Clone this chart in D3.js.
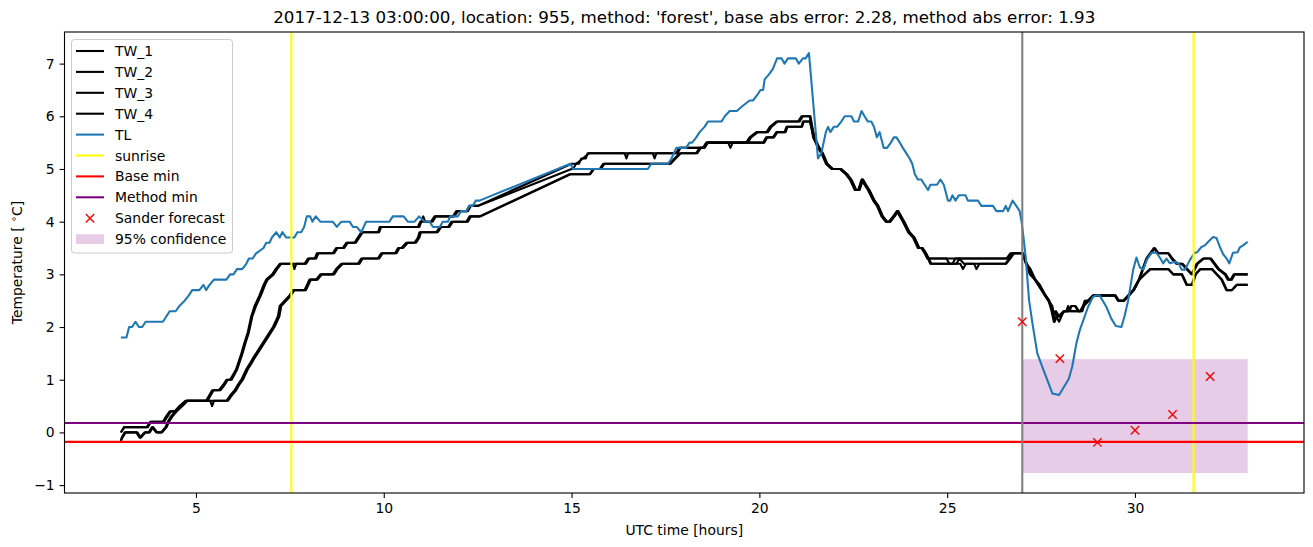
<!DOCTYPE html>
<html><head><meta charset="utf-8">
<script src="https://cdn.jsdelivr.net/npm/d3@7"></script>
<style>body{margin:0;background:#fff}svg{display:block;font-family:"DejaVu Sans",sans-serif}</style>
</head><body><svg id="c" width="1313" height="547"></svg>
<script>
// ---------- data ----------
const titleText = "2017-12-13 03:00:00, location: 955, method: 'forest', base abs error: 2.28, method abs error: 1.93";
const xTicks = [5, 10, 15, 20, 25, 30];
const yTicks = [-1, 0, 1, 2, 3, 4, 5, 6, 7];
const seriesNames = ["TW_1", "TW_2", "TW_3", "TW_4", "TL"];

const tw1 = [[3.0,0.0],[3.08,0.1],[3.69,0.1],[3.78,0.2],[4.12,0.2],[4.2,0.3],[4.3,0.4],[4.43,0.4],[4.56,0.5],[4.72,0.6],[5.27,0.6],[5.35,0.7],[5.43,0.8],[5.61,0.8],[5.72,0.9],[5.81,1.0],[5.91,1.0],[6.07,1.2],[6.21,1.5],[6.29,1.7],[6.38,1.9],[6.47,2.2],[6.56,2.4],[6.69,2.6],[6.8,2.8],[6.87,2.9],[7.03,3.0],[7.12,3.1],[7.23,3.2],[7.89,3.2],[7.98,3.3],[8.16,3.3],[8.22,3.4],[8.64,3.4],[8.73,3.5],[8.91,3.5],[9.0,3.6],[9.22,3.6],[9.31,3.7],[9.4,3.8],[9.85,3.8],[9.89,3.9],[10.91,3.9],[10.97,4.0],[11.26,4.0],[11.35,4.1],[11.84,4.1],[11.93,4.2],[12.2,4.2],[12.28,4.3],[12.5,4.3],[15.0,5.1],[15.2,5.1],[15.26,5.2],[15.38,5.2],[15.43,5.3],[17.79,5.3],[17.86,5.4],[18.5,5.4],[18.59,5.5],[19.65,5.5],[19.74,5.6],[19.92,5.7],[20.19,5.7],[20.28,5.8],[20.45,5.9],[21.03,5.9],[21.12,6.0],[21.34,6.0],
 [21.43,5.6],[21.56,5.4],[21.65,5.3],[21.77,5.1],[21.92,5.0],[22.14,5.0],[22.3,4.9],[22.41,4.8],[22.54,4.6],[22.63,4.6],[22.72,4.8],[22.8,4.7],[22.89,4.6],[23.03,4.4],[23.13,4.3],[23.25,4.1],[23.36,4.0],[23.45,4.0],[23.56,4.1],[23.66,4.2],[23.74,4.1],[23.82,4.0],[23.96,3.8],[24.09,3.7],[24.22,3.5],[24.31,3.5],[24.4,3.4],[24.47,3.3],[26.62,3.3],[26.72,3.4],[27.0,3.4],[27.1,3.2],[27.2,3.1],[27.33,2.9],[27.42,2.8],[27.6,2.6],[27.69,2.5],[27.78,2.4],[27.82,2.2],[27.87,2.3],[27.95,2.2],[28.1,2.3],[28.22,2.3],[28.3,2.4],[28.4,2.4],[28.49,2.3],[28.57,2.3],[28.66,2.5],[28.75,2.5],[28.88,2.6],[29.46,2.6],[29.55,2.5],[29.68,2.5],[29.82,2.6],[29.95,2.7],[30.1,2.9],[30.2,3.1],[30.3,3.3],[30.4,3.4],[30.5,3.5],[30.6,3.4],[30.88,3.4],[30.97,3.3],[31.1,3.2],[31.24,3.2],[31.37,3.1],[31.5,3.0],[31.64,3.2],[31.81,3.3],[32.0,3.3],[32.21,3.1],[32.39,3.0],[32.47,2.9],[32.55,2.9],[32.63,3.0],[33.0,3.0]];

const tw2 = [[3.0,0.0],[3.1,0.1],[3.72,0.1],[3.8,0.2],[4.15,0.2],[4.24,0.3],[4.33,0.4],[4.47,0.4],[4.6,0.5],[4.76,0.6],[5.31,0.6],[5.39,0.7],[5.47,0.8],[5.65,0.8],[5.76,0.9],[5.85,1.0],[5.95,1.0],[6.1,1.2],[6.24,1.5],[6.32,1.7],[6.41,1.9],[6.5,2.2],[6.6,2.4],[6.73,2.6],[6.84,2.8],[6.91,2.9],[7.07,3.0],[7.16,3.1],[7.27,3.2],[7.58,3.2],[7.62,3.1],[7.67,3.2],[7.93,3.2],[8.02,3.3],[8.2,3.3],[8.26,3.4],[8.68,3.4],[8.77,3.5],[8.95,3.5],[9.04,3.6],[9.26,3.6],[9.35,3.7],[9.44,3.8],[9.88,3.8],[9.93,3.9],[10.95,3.9],[11.0,4.0],[11.05,4.1],[11.1,4.0],[11.3,4.0],[11.39,4.1],[11.88,4.1],[11.97,4.2],[12.24,4.2],[12.32,4.3],[12.52,4.3],[15.0,5.0],[15.04,5.0],[15.12,5.1],[15.3,5.2],[15.47,5.3],[16.41,5.3],[16.46,5.2],[16.51,5.3],[17.16,5.3],[17.21,5.2],[17.26,5.3],[17.82,5.3],[17.9,5.4],[18.54,5.4],[18.63,5.5],[19.17,5.5],[19.23,5.4],[19.29,5.5],[19.69,5.5],[19.78,5.6],[19.96,5.7],[20.23,5.7],[20.32,5.8],[20.49,5.9],[21.07,5.9],[21.16,6.0],[21.36,6.0],
 [21.46,5.6],[21.59,5.4],[21.68,5.3],[21.8,5.1],[21.95,5.0],[22.17,5.0],[22.33,4.9],[22.44,4.8],[22.57,4.6],[22.66,4.6],[22.75,4.8],[22.83,4.7],[22.92,4.6],[23.06,4.4],[23.16,4.3],[23.28,4.1],[23.39,4.0],[23.48,4.0],[23.59,4.1],[23.69,4.2],[23.77,4.1],[23.85,4.0],[23.99,3.8],[24.12,3.7],[24.25,3.5],[24.34,3.5],[24.43,3.4],[24.5,3.3],[24.98,3.3],[25.06,3.2],[25.14,3.2],[25.22,3.3],[26.58,3.3],[26.68,3.4],[27.02,3.4],[27.12,3.2],[27.22,3.1],[27.35,2.9],[27.45,2.8],[27.62,2.6],[27.71,2.5],[27.8,2.4],[27.85,2.2],[27.9,2.3],[27.98,2.2],[28.12,2.3],[28.24,2.3],[28.32,2.4],[28.42,2.4],[28.51,2.3],[28.6,2.3],[28.68,2.5],[28.77,2.5],[28.9,2.6],[29.48,2.6],[29.57,2.5],[29.7,2.5],[29.84,2.6],[29.97,2.7],[30.12,2.9],[30.22,3.1],[30.32,3.3],[30.43,3.4],[30.53,3.5],[30.63,3.4],[30.9,3.4],[31.0,3.3],[31.13,3.2],[31.27,3.2],[31.4,3.1],[31.53,3.0],[31.67,3.2],[31.84,3.3],[32.03,3.3],[32.24,3.1],[32.42,3.0],[32.5,2.9],[32.58,2.9],[32.66,3.0],[33.0,3.0]];

const tw3 = [[3.0,-0.2],[3.02,-0.1],[3.1,0.0],[3.41,0.0],[3.5,-0.1],[3.63,0.0],[3.74,0.0],[3.83,0.1],[3.94,0.0],[4.07,0.0],[4.19,0.1],[4.25,0.2],[4.33,0.3],[4.45,0.4],[4.6,0.5],[4.74,0.6],[5.81,0.6],[5.91,0.7],[6.03,0.8],[6.11,0.9],[6.21,1.0],[6.34,1.2],[6.43,1.3],[6.51,1.4],[6.69,1.6],[6.87,1.8],[7.05,2.0],[7.18,2.2],[7.23,2.4],[7.36,2.5],[7.49,2.6],[7.58,2.7],[7.89,2.7],[8.02,2.9],[8.2,2.9],[8.31,3.0],[8.64,3.0],[8.73,3.1],[8.87,3.2],[9.31,3.2],[9.4,3.3],[9.84,3.3],[9.93,3.4],[10.3,3.4],[10.38,3.5],[10.47,3.5],[10.6,3.6],[10.82,3.6],[10.91,3.7],[10.95,3.8],[11.4,3.8],[11.49,3.9],[11.71,3.9],[11.8,4.0],[12.2,4.0],[12.28,4.1],[12.55,4.1],[14.95,4.9],[15.48,4.9],[15.57,5.0],[15.75,5.0],[15.84,5.1],[17.61,5.1],[17.74,5.2],[17.88,5.3],[18.32,5.3],[18.41,5.4],[18.5,5.4],[18.59,5.5],[20.1,5.5],[20.18,5.6],[20.36,5.6],[20.45,5.7],[20.67,5.7],[20.72,5.8],[21.12,5.8],[21.16,5.9],[21.34,5.9],
 [21.45,5.6],[21.58,5.4],[21.67,5.3],[21.79,5.1],[21.94,5.0],[22.16,5.0],[22.32,4.9],[22.43,4.8],[22.56,4.6],[22.65,4.6],[22.74,4.8],[22.82,4.7],[22.91,4.6],[23.05,4.4],[23.15,4.3],[23.27,4.1],[23.38,4.0],[23.47,4.0],[23.58,4.1],[23.68,4.2],[23.76,4.1],[23.84,4.0],[23.98,3.8],[24.11,3.7],[24.24,3.5],[24.33,3.5],[24.42,3.4],[24.49,3.3],[24.55,3.2],[25.35,3.2],[25.42,3.1],[25.5,3.2],[25.72,3.2],[25.78,3.1],[25.86,3.2],[26.55,3.2],[26.65,3.3],[26.75,3.4],[27.0,3.4],[27.1,3.2],[27.2,3.0],[27.33,2.9],[27.45,2.8],[27.6,2.6],[27.7,2.5],[27.78,2.3],[27.84,2.1],[27.9,2.2],[27.98,2.1],[28.1,2.3],[28.53,2.3],[28.62,2.4],[28.75,2.5],[28.88,2.6],[29.46,2.6],[29.55,2.5],[29.7,2.5],[29.82,2.6],[29.95,2.7],[30.1,2.9],[30.25,3.0],[30.4,3.1],[30.88,3.1],[31.01,3.0],[31.24,3.0],[31.37,2.8],[31.51,2.8],[31.6,3.0],[31.73,3.1],[32.04,3.1],[32.17,3.0],[32.3,2.9],[32.43,2.7],[32.57,2.7],[32.7,2.8],[33.0,2.8]];

const tw4 = [[3.0,-0.15],[3.04,-0.1],[3.13,0.0],[3.44,0.0],[3.53,-0.1],[3.66,0.0],[3.77,0.0],[3.86,0.1],[3.97,0.0],[4.1,0.0],[4.22,0.1],[4.28,0.2],[4.37,0.3],[4.49,0.4],[4.64,0.5],[4.78,0.6],[5.38,0.6],[5.43,0.5],[5.48,0.6],[5.85,0.6],[5.95,0.7],[6.07,0.8],[6.15,0.9],[6.25,1.0],[6.38,1.2],[6.47,1.3],[6.55,1.4],[6.73,1.6],[6.91,1.8],[7.09,2.0],[7.22,2.2],[7.27,2.4],[7.4,2.5],[7.53,2.6],[7.62,2.7],[7.93,2.7],[8.06,2.9],[8.24,2.9],[8.35,3.0],[8.68,3.0],[8.77,3.1],[8.91,3.2],[9.35,3.2],[9.44,3.3],[9.88,3.3],[9.97,3.4],[10.34,3.4],[10.42,3.5],[10.51,3.5],[10.64,3.6],[10.86,3.6],[10.95,3.7],[10.99,3.8],[11.44,3.8],[11.53,3.9],[11.75,3.9],[11.84,4.0],[12.24,4.0],[12.32,4.1],[12.58,4.1],[14.97,4.9],[15.5,4.9],[15.6,5.0],[15.78,5.0],[15.88,5.1],[17.64,5.1],[17.77,5.2],[17.91,5.3],[18.35,5.3],[18.44,5.4],[18.53,5.4],[18.62,5.5],[20.13,5.5],[20.21,5.6],[20.39,5.6],[20.48,5.7],[20.7,5.7],[20.75,5.8],[21.14,5.8],[21.18,5.9],[21.36,5.9],
 [21.47,5.6],[21.6,5.4],[21.69,5.3],[21.81,5.1],[21.96,5.0],[22.18,5.0],[22.34,4.9],[22.45,4.8],[22.58,4.6],[22.67,4.6],[22.76,4.8],[22.84,4.7],[22.93,4.6],[23.07,4.4],[23.17,4.3],[23.29,4.1],[23.4,4.0],[23.49,4.0],[23.6,4.1],[23.7,4.2],[23.78,4.1],[23.86,4.0],[24.0,3.8],[24.13,3.7],[24.26,3.5],[24.35,3.5],[24.44,3.4],[24.51,3.3],[24.58,3.2],[25.25,3.2],[25.32,3.3],[25.45,3.2],[26.57,3.2],[26.68,3.3],[26.78,3.4],[27.02,3.4],[27.12,3.2],[27.22,3.0],[27.35,2.9],[27.47,2.8],[27.62,2.6],[27.72,2.5],[27.8,2.3],[27.86,2.1],[27.92,2.2],[28.0,2.2],[28.12,2.3],[28.17,2.3],[28.22,2.4],[28.3,2.3],[28.55,2.3],[28.64,2.4],[28.77,2.5],[28.9,2.6],[29.48,2.6],[29.57,2.5],[29.72,2.5],[29.84,2.6],[29.97,2.7],[30.12,2.9],[30.27,3.0],[30.42,3.1],[30.9,3.1],[31.03,3.0],[31.26,3.0],[31.39,2.8],[31.53,2.8],[31.62,3.0],[31.75,3.1],[32.06,3.1],[32.19,3.0],[32.32,2.9],[32.45,2.7],[32.59,2.7],[32.72,2.8],[33.0,2.8]];

const tl = [[3.0,1.8],[3.15,1.8],[3.22,2.0],[3.3,2.0],[3.39,2.1],[3.48,2.0],[3.57,2.0],[3.66,2.1],[4.12,2.1],[4.3,2.3],[4.46,2.3],[4.56,2.4],[4.7,2.5],[4.81,2.6],[4.9,2.7],[5.09,2.7],[5.2,2.8],[5.27,2.7],[5.36,2.8],[5.48,2.9],[5.81,2.9],[5.91,3.0],[6.0,3.0],[6.09,3.1],[6.23,3.1],[6.34,3.2],[6.41,3.3],[6.51,3.3],[6.6,3.4],[6.8,3.5],[6.87,3.6],[6.96,3.6],[7.02,3.7],[7.14,3.8],[7.23,3.7],[7.3,3.8],[7.4,3.7],[7.62,3.7],[7.7,3.8],[7.8,3.8],[7.88,3.9],[7.95,4.1],[8.04,4.1],[8.1,4.0],[8.19,4.1],[8.31,4.0],[8.64,4.0],[8.75,3.9],[8.87,4.0],[9.09,4.0],[9.18,3.9],[9.28,3.9],[9.4,3.8],[9.53,4.0],[10.15,4.0],[10.24,4.1],[10.53,4.1],[10.64,4.0],[10.82,4.0],[10.94,4.1],[11.09,4.0],[11.22,4.0],[11.31,3.9],[11.49,3.9],[11.57,4.0],[11.71,4.0],[11.77,4.1],[11.97,4.1],[12.06,4.2],[12.2,4.2],[12.28,4.3],[12.37,4.3],[12.45,4.4],[12.55,4.4],[14.97,5.1],[15.04,5.0],[15.13,5.0],[17.03,5.0],[17.12,5.1],[17.57,5.1],[17.66,5.2],[17.79,5.4],[18.05,5.4],[18.14,5.5],[18.21,5.5],[18.32,5.6],[18.41,5.7],[18.54,5.8],[18.63,5.9],[18.99,5.9],[19.08,6.0],[19.21,6.1],[19.4,6.1],[19.56,6.2],[19.74,6.3],[19.83,6.3],[19.94,6.4],[20.03,6.5],[20.1,6.5],[20.14,6.7],[20.26,6.8],[20.36,6.9],[20.47,7.1],[20.59,7.1],[20.67,7.0],[20.76,7.1],[20.97,7.1],[21.05,7.0],[21.16,7.1],[21.23,7.1],[21.32,7.2],[21.56,5.2],[21.65,5.3],[21.77,5.7],[21.83,5.8],[21.89,5.7],[21.98,5.8],[22.07,5.8],[22.18,5.9],[22.27,6.0],[22.45,6.0],[22.52,5.9],[22.63,5.9],[22.72,6.1],[22.8,6.0],[22.89,5.9],[22.98,5.9],[23.05,5.8],[23.13,5.6],[23.2,5.7],[23.31,5.4],[23.4,5.4],[23.5,5.5],[23.58,5.6],[23.65,5.6],[23.74,5.5],[23.82,5.4],[23.91,5.3],[24.0,5.2],[24.07,5.1],[24.14,4.9],[24.22,4.8],[24.31,4.8],[24.4,4.7],[24.49,4.6],[24.55,4.7],[24.73,4.7],[24.82,4.8],[24.91,4.7],[25.02,4.4],[25.08,4.4],[25.14,4.5],[25.22,4.4],[25.31,4.5],[25.49,4.5],[25.55,4.4],[25.82,4.4],[25.91,4.3],[26.22,4.3],[26.31,4.2],[26.49,4.2],[26.56,4.3],[26.62,4.2],[26.74,4.4],[26.84,4.3],[26.93,4.2],[26.98,4.0],[27.02,3.78],[27.09,3.33],[27.18,2.51],[27.27,2.07],[27.4,1.5],[27.53,1.25],[27.67,0.99],[27.8,0.74],[27.98,0.71],[28.08,0.83],[28.24,1.02],[28.33,1.25],[28.44,1.69],[28.53,1.94],[28.75,2.38],[28.88,2.57],[28.97,2.6],[29.06,2.6],[29.24,2.38],[29.37,2.16],[29.49,2.02],[29.64,2.0],[29.73,2.23],[29.82,2.51],[29.95,3.08],[30.04,3.32],[30.13,3.13],[30.22,3.09],[30.31,3.27],[30.44,3.41],[30.57,3.41],[30.66,3.32],[30.75,3.21],[30.84,3.3],[30.93,3.21],[31.06,3.24],[31.17,3.2],[31.24,3.09],[31.33,3.09],[31.46,3.27],[31.59,3.41],[31.66,3.42],[31.77,3.52],[31.86,3.55],[31.95,3.62],[32.08,3.71],[32.17,3.69],[32.26,3.52],[32.35,3.38],[32.44,3.3],[32.51,3.21],[32.61,3.41],[32.73,3.42],[32.79,3.51],[32.88,3.55],[33.0,3.62]];

const sunriseHours = [7.54, 31.56];
const nowHour = 27;
const baseMin = -0.18;
const methodMin = 0.18;
const forecastHours = [27, 28, 29, 30, 31, 32];
const forecastValues = [2.1, 1.4, -0.19, 0.04, 0.34, 1.06];
const confHours = [27, 33];
const confLow = -0.77;
const confHigh = 1.39;

// ---------- layout ----------
const svg = d3.select("#c");
const L = 64.5, R = 1304, T = 32, B = 493;
const x = d3.scaleLinear().domain([1.5, 34.5]).range([L, R]);
const y = d3.scaleLinear().domain([-1.15, 7.6]).range([B, T]);
const FS = 13.9;
const LW = 2.08;

svg.append("defs").append("clipPath").attr("id", "clip")
  .append("rect").attr("x", L).attr("y", T).attr("width", R - L).attr("height", B - T);
const plot = svg.append("g").attr("clip-path", "url(#clip)");

// confidence band (zorder below lines)
plot.append("rect")
  .attr("x", x(confHours[0])).attr("width", x(confHours[1]) - x(confHours[0]))
  .attr("y", y(confHigh)).attr("height", y(confLow) - y(confHigh))
  .attr("fill", "#800080").attr("fill-opacity", 0.2);

const line = d3.line().x(d => x(d[0])).y(d => y(d[1]));
const twData = [tw1, tw2, tw3, tw4];
twData.forEach(s => {
  plot.append("path").datum(s).attr("d", line)
    .attr("fill", "none").attr("stroke", "#000").attr("stroke-width", LW)
    .attr("stroke-linejoin", "round");
});
plot.append("path").datum(tl).attr("d", line)
  .attr("fill", "none").attr("stroke", "#1f77b4").attr("stroke-width", LW)
  .attr("stroke-linejoin", "round");

sunriseHours.forEach(h => {
  plot.append("line").attr("x1", x(h)).attr("x2", x(h)).attr("y1", T).attr("y2", B)
    .attr("stroke", "#ffff00").attr("stroke-width", LW);
});
plot.append("line").attr("x1", L).attr("x2", R).attr("y1", y(baseMin)).attr("y2", y(baseMin))
  .attr("stroke", "#ff0000").attr("stroke-width", LW);
plot.append("line").attr("x1", L).attr("x2", R).attr("y1", y(methodMin)).attr("y2", y(methodMin))
  .attr("stroke", "#800080").attr("stroke-width", LW);
plot.append("line").attr("x1", x(nowHour)).attr("x2", x(nowHour)).attr("y1", T).attr("y2", B)
  .attr("stroke", "#808080").attr("stroke-width", LW);

const ms = 4.2;
forecastHours.forEach((h, i) => {
  const cx = x(h), cy = y(forecastValues[i]);
  plot.append("path").attr("d", `M${cx-ms},${cy-ms}L${cx+ms},${cy+ms}M${cx-ms},${cy+ms}L${cx+ms},${cy-ms}`)
    .attr("stroke", "#ff0000").attr("stroke-width", 1.4).attr("fill", "none");
});

// ---------- axes ----------
const fmt = d => (d < 0 ? "\u2212" + Math.abs(d) : String(d));
const xa = svg.append("g").attr("transform", `translate(0,${B})`)
  .call(d3.axisBottom(x).tickValues(xTicks).tickSize(4.9).tickPadding(4.9).tickFormat(fmt));
const ya = svg.append("g").attr("transform", `translate(${L},0)`)
  .call(d3.axisLeft(y).tickValues(yTicks).tickSize(4.9).tickPadding(4.9).tickFormat(fmt));
[xa, ya].forEach(a => {
  a.select(".domain").remove();
  a.selectAll("line").attr("stroke", "#000").attr("stroke-width", 1.1);
  a.selectAll("text").attr("font-family", "DejaVu Sans").attr("font-size", FS).attr("fill", "#000");
});
svg.append("rect").attr("x", L).attr("y", T).attr("width", R - L).attr("height", B - T)
  .attr("fill", "none").attr("stroke", "#000").attr("stroke-width", 1.1);

// labels
svg.append("text").attr("x", (L + R) / 2).attr("y", 535).attr("text-anchor", "middle")
  .attr("font-size", FS).text("UTC time [hours]");
const yl = svg.append("text").attr("transform", `translate(22,${(T + B) / 2}) rotate(-90)`)
  .attr("text-anchor", "middle").attr("font-size", FS);
yl.append("tspan").text("Temperature [ ");
yl.append("tspan").attr("font-size", FS * 0.7).attr("dy", -5).text("\u2218");
yl.append("tspan").attr("dy", 5).text("C]");
svg.append("text").attr("x", (L + R) / 2).attr("y", 23).attr("text-anchor", "middle")
  .attr("font-size", 16.7).text(titleText);

// ---------- legend ----------
const lg = svg.append("g");
lg.append("rect").attr("x", 71.5).attr("y", 39.5).attr("width", 161).attr("height", 213.5)
  .attr("rx", 3).attr("fill", "#fff").attr("fill-opacity", 0.8).attr("stroke", "#cccccc").attr("stroke-width", 1);
const legendItems = [
  {label: seriesNames[0], type: "line", color: "#000"},
  {label: seriesNames[1], type: "line", color: "#000"},
  {label: seriesNames[2], type: "line", color: "#000"},
  {label: seriesNames[3], type: "line", color: "#000"},
  {label: seriesNames[4], type: "line", color: "#1f77b4"},
  {label: "sunrise", type: "line", color: "#ffff00"},
  {label: "Base min", type: "line", color: "#ff0000"},
  {label: "Method min", type: "line", color: "#800080"},
  {label: "Sander forecast", type: "x", color: "#ff0000"},
  {label: "95% confidence", type: "patch", color: "#800080"}
];
legendItems.forEach((it, i) => {
  const cy = 51 + i * 20.9;
  if (it.type === "line") {
    lg.append("line").attr("x1", 76).attr("x2", 104).attr("y1", cy).attr("y2", cy)
      .attr("stroke", it.color).attr("stroke-width", LW);
  } else if (it.type === "x") {
    lg.append("path").attr("d", `M${90-ms},${cy-ms}L${90+ms},${cy+ms}M${90-ms},${cy+ms}L${90+ms},${cy-ms}`)
      .attr("stroke", it.color).attr("stroke-width", 1.4);
  } else {
    lg.append("rect").attr("x", 76).attr("y", cy - 4.8).attr("width", 28).attr("height", 9.7)
      .attr("fill", it.color).attr("fill-opacity", 0.2);
  }
  lg.append("text").attr("x", 115).attr("y", cy).attr("dy", "0.36em")
    .attr("font-size", FS).text(it.label);
});
</script></body></html>
